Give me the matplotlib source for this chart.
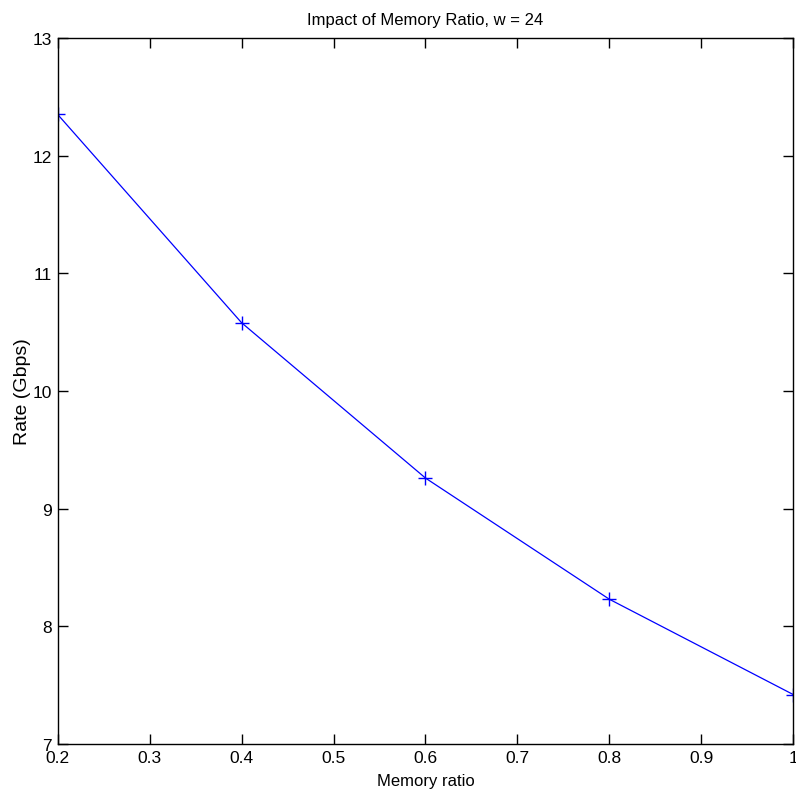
import matplotlib
matplotlib.use("Agg")
import matplotlib.pyplot as plt

memory_ratio = [0.2, 0.4, 0.6, 0.8, 1.0]
rate_gbps = [12.35, 10.58, 9.26, 8.23, 7.42]
x_ticks = [0.2, 0.3, 0.4, 0.5, 0.6, 0.7, 0.8, 0.9, 1.0]
x_tick_labels = ["0.2", "0.3", "0.4", "0.5", "0.6", "0.7", "0.8", "0.9", "1"]
y_ticks = [7, 8, 9, 10, 11, 12, 13]

plt.rcParams['font.family'] = ['Liberation Sans', 'DejaVu Sans']

fig = plt.figure(figsize=(7.96, 8.03), dpi=100)
ax = fig.add_axes([57.7/796, 58/803, (793.3-57.7)/796, (745-39)/803])
ax.plot(memory_ratio, rate_gbps, color=(0, 0, 1), linewidth=0.9,
        marker='+', markersize=10, markeredgewidth=1.0)
ax.set_xlim(0.2, 1.0)
ax.set_ylim(7, 13)
ax.set_xticks(x_ticks)
ax.set_xticklabels(x_tick_labels)
ax.set_yticks(y_ticks)
ax.tick_params(direction='in', length=7, width=1, top=True, right=True,
               labelsize=12.5, pad=4, colors='black')
for s in ax.spines.values():
    s.set_linewidth(1.0)
ax.set_xlabel("Memory ratio", fontsize=12, labelpad=6)
ax.set_ylabel("Rate (Gbps)", fontsize=14, labelpad=1.5)
ax.set_title("Impact of Memory Ratio, w = 24", fontsize=12, pad=10)
fig.savefig("out.png", dpi=100)
